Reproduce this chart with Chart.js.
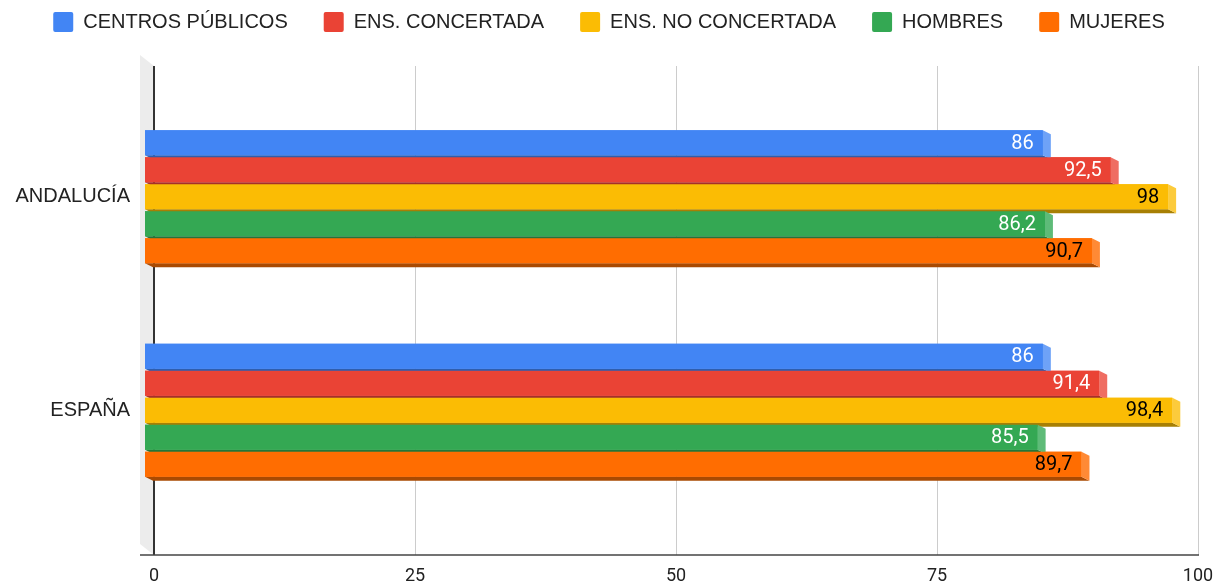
<!DOCTYPE html>
<html lang="es">
<head>
<meta charset="UTF-8">
<title>Tasa de idoneidad</title>
<script src="https://cdn.jsdelivr.net/npm/chart.js@4"></script>
<style>
  html, body { margin: 0; padding: 0; background: #fff; }
  #wrap { width: 1218px; height: 583px; }
</style>
</head>
<body>
<div id="wrap"><canvas id="myBarChart" width="1218" height="583"></canvas></div>
<script>
// data
var categories = ['ANDALUCÍA', 'ESPAÑA'];
var seriesNames = ['CENTROS PÚBLICOS', 'ENS. CONCERTADA', 'ENS. NO CONCERTADA', 'HOMBRES', 'MUJERES'];
var centrosPublicos = [86, 86];
var ensConcertada = [92.5, 91.4];
var ensNoConcertada = [98, 98.4];
var hombres = [86.2, 85.5];
var mujeres = [90.7, 89.7];

// colours: front, side (light), bottom (dark), label text
var frontColors = ['#4285F4', '#EA4335', '#FBBC04', '#34A853', '#FF6D01'];
var sideColors = ['#6EA2F7', '#EF6D62', '#FCCB3C', '#5EBB78', '#FF8A35'];
var bottomColors = ['#2F5EAE', '#A5302A', '#A77F03', '#257539', '#A94A02'];
var labelColors = ['#ffffff', '#ffffff', '#000000', '#ffffff', '#000000'];

var DX = 8, DY = 4;     // bar depth
var BACK = 9;           // offset of the back plane

var seriesValues = [centrosPublicos, ensConcertada, ensNoConcertada, hombres, mujeres];

var barData = {
    labels: categories,
    datasets: seriesValues.map(function (vals, i) {
        return {
            label: seriesNames[i],
            data: vals,
            xAxisID: 'x',
            yAxisID: 'y',
            backgroundColor: frontColors[i],
            borderWidth: 0,
            categoryPercentage: 0.632,
            barPercentage: 0.926
        };
    })
};

function fmt(v) {
    return String(v).replace('.', ',');
}

// back wall, grid, zero line and base line
var backPlane = {
    id: 'backPlane',
    beforeDatasetsDraw: function (chart) {
        var ctx = chart.ctx;
        var xs = chart.scales.x;
        var area = chart.chartArea;
        var top = area.top - 24;
        var bottom = area.bottom + 38;
        var zero = xs.getPixelForValue(0) + BACK;
        ctx.save();
        ctx.fillStyle = '#ececec';
        ctx.beginPath();
        ctx.moveTo(zero - 14, top - 11);
        ctx.lineTo(zero, top);
        ctx.lineTo(zero, bottom);
        ctx.lineTo(zero - 14, bottom - 11);
        ctx.closePath();
        ctx.fill();

        ctx.strokeStyle = '#cccccc';
        ctx.lineWidth = 1;
        xs.ticks.forEach(function (t) {
            if (t.value === 0) return;
            var px = Math.round(xs.getPixelForValue(t.value) + BACK) + 0.5;
            ctx.beginPath();
            ctx.moveTo(px, top);
            ctx.lineTo(px, bottom);
            ctx.stroke();
        });

        ctx.strokeStyle = '#333333';
        ctx.lineWidth = 2;
        ctx.beginPath();
        ctx.moveTo(zero, top);
        ctx.lineTo(zero, bottom);
        ctx.stroke();

        ctx.lineWidth = 1.5;
        ctx.strokeStyle = '#444444';
        ctx.beginPath();
        ctx.moveTo(zero - 14, bottom);
        ctx.lineTo(xs.getPixelForValue(100) + BACK + 1, bottom);
        ctx.stroke();
        ctx.restore();
    }
};

// 3d faces and value labels
var bars3d = {
    id: 'bars3d',
    afterDatasetsDraw: function (chart) {
        var ctx = chart.ctx;
        ctx.save();
        for (var c = 0; c < categories.length; c++) {
            for (var d = 0; d < seriesValues.length; d++) {
                var bar = chart.getDatasetMeta(d).data[c];
                var x0 = bar.base, x1 = bar.x;
                var y0 = bar.y - bar.height / 2, y1 = bar.y + bar.height / 2;

                ctx.fillStyle = bottomColors[d];
                ctx.beginPath();
                ctx.moveTo(x0, y1);
                ctx.lineTo(x1, y1);
                ctx.lineTo(x1 + DX, y1 + DY);
                ctx.lineTo(x0 + DX, y1 + DY);
                ctx.closePath();
                ctx.fill();

                ctx.fillStyle = sideColors[d];
                ctx.beginPath();
                ctx.moveTo(x1, y0);
                ctx.lineTo(x1 + DX, y0 + DY);
                ctx.lineTo(x1 + DX, y1 + DY);
                ctx.lineTo(x1, y1);
                ctx.closePath();
                ctx.fill();

                ctx.fillStyle = frontColors[d];
                ctx.fillRect(x0, y0, x1 - x0, y1 - y0);
            }
        }
        ctx.font = '20px Roboto';
        ctx.textAlign = 'right';
        ctx.textBaseline = 'middle';
        for (var d2 = 0; d2 < seriesValues.length; d2++) {
            chart.getDatasetMeta(d2).data.forEach(function (bar, i) {
                ctx.fillStyle = labelColors[d2];
                ctx.fillText(fmt(seriesValues[d2][i]), bar.x - 9, bar.y + 1);
            });
        }
        ctx.restore();
    }
};

var barOptions = {
    indexAxis: 'y',
    responsive: false,
    animation: false,
    layout: { padding: { top: -24, right: 0, bottom: 0, left: 0 } },
    plugins: {
        legend: {
            position: 'top',
            labels: {
                boxWidth: 20,
                boxHeight: 20,
                padding: 36,
                useBorderRadius: true,
                borderRadius: 2,
                color: '#222222',
                font: { family: '"Liberation Sans", Arial, sans-serif', size: 20 }
            }
        },
        tooltip: { enabled: false }
    },
    scales: {
        x: {
            min: 0,
            max: 100,
            grid: { display: false, drawTicks: false },
            border: { display: false },
            afterFit: function (scale) {
                scale.height = 66;
                scale.paddingLeft = 0;
                scale.paddingRight = 0;
            },
            ticks: {
                stepSize: 25,
                labelOffset: BACK,
                padding: 49,
                color: '#222222',
                font: { family: 'Roboto', size: 18 }
            }
        },
        y: {
            grid: { display: false, drawTicks: false },
            border: { display: false },
            afterFit: function (scale) { scale.width = 145; },
            ticks: {
                padding: 15,
                color: '#222222',
                font: { family: '"Liberation Sans", Arial, sans-serif', size: 20 }
            }
        },
        spacer: {
            type: 'linear',
            axis: 'x',
            position: 'top',
            grid: { display: false, drawTicks: false },
            border: { display: false },
            ticks: { display: false },
            afterFit: function (scale) {
                scale.height = 48;
                scale.paddingLeft = 0;
                scale.paddingRight = 0;
            }
        },
        rightSpacer: {
            type: 'linear',
            axis: 'y',
            position: 'right',
            grid: { display: false, drawTicks: false },
            border: { display: false },
            ticks: { display: false },
            afterFit: function (scale) {
                scale.width = 29;
                scale.paddingTop = 0;
                scale.paddingBottom = 0;
            }
        }
    }
};

var ctxBar = document.getElementById('myBarChart').getContext('2d');
var myBarChart = new Chart(ctxBar, {
    type: 'bar',
    data: barData,
    options: barOptions,
    plugins: [backPlane, bars3d]
});
</script>
</body>
</html>
